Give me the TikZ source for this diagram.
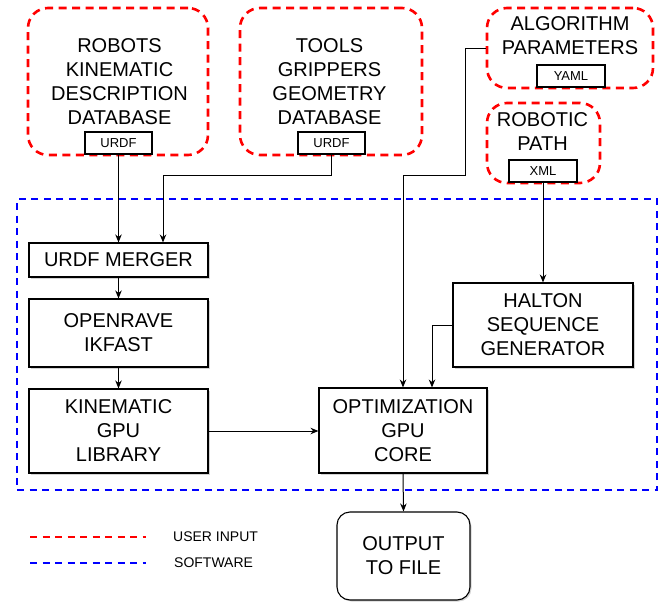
\documentclass[tikz,border=0pt]{standalone}
\usepackage{fontspec}
\setmainfont{Liberation Sans}
\usetikzlibrary{arrows.meta,shadows}
\begin{document}
\begin{tikzpicture}[x=1pt,y=-1pt,
  bigtxt/.style={font=\fontsize{20}{24}\selectfont, align=center, inner sep=0pt},
  userbox/.style={draw=red, line width=2.6pt, dash pattern=on 8pt off 5.5pt, rounded corners=20pt, inner sep=0pt},
  tagbox/.style={draw=black, line width=1.1pt, fill=white, inner sep=0pt, font=\fontsize{13}{15}\selectfont},
  procbox/.style={draw=black, line width=1.1pt, fill=white, inner sep=0pt, align=center,
     font=\fontsize{20}{24}\selectfont, drop shadow={opacity=0.35, shadow xshift=1.5pt, shadow yshift=-1.5pt}},
  softline/.style={draw=blue, line width=2pt, dash pattern=on 7pt off 5.5pt},
  userline/.style={draw=red, line width=2.2pt, dash pattern=on 7pt off 5.5pt},
  conn/.style={draw=black, line width=1pt, -{Stealth[length=8pt,width=6.5pt]}},
  legtxt/.style={font=\fontsize{14}{16}\selectfont, anchor=west, inner sep=0pt}
]
\useasboundingbox (0,0) rectangle (664,605);

% software frame
\node[softline, minimum width=640pt, minimum height=291pt, inner sep=0pt] (soft) at (337,344.5) {};

% user input boxes
\node[userbox, minimum width=180pt, minimum height=147pt] (robotsbox) at (118,81.5) {};
\node[bigtxt] (robotstxt) at (119.5,82) {ROBOTS\\KINEMATIC\\DESCRIPTION\\DATABASE};
\node[tagbox, minimum width=67pt, minimum height=22pt] (robotsurdf) at (118.5,143) {URDF};

\node[userbox, minimum width=182pt, minimum height=147pt] (toolsbox) at (331,81.5) {};
\node[bigtxt] (toolstxt) at (329.5,82) {TOOLS\\GRIPPERS\\GEOMETRY\\DATABASE};
\node[tagbox, minimum width=67pt, minimum height=22pt] (toolsurdf) at (331.5,143) {URDF};

\node[userbox, minimum width=166pt, minimum height=80pt] (algobox) at (570,48) {};
\node[bigtxt] (algotxt) at (570,35.5) {ALGORITHM\\PARAMETERS};
\node[tagbox, minimum width=68pt, minimum height=22pt] (yaml) at (571,76) {YAML};

\node[userbox, minimum width=113pt, minimum height=80pt] (pathbox) at (543.5,143) {};
\node[bigtxt] (pathtxt) at (542.5,131.5) {ROBOTIC\\PATH};
\node[tagbox, minimum width=68pt, minimum height=22pt] (xml) at (543,171) {XML};

% processing boxes
\node[procbox, minimum width=179pt, minimum height=34pt] (merger) at (118.5,260) {URDF MERGER};
\node[procbox, minimum width=179pt, minimum height=68pt] (openrave) at (118.5,333) {OPENRAVE\\IKFAST};
\node[procbox, minimum width=179pt, minimum height=84pt] (kinlib) at (118.5,431) {KINEMATIC\\GPU\\LIBRARY};
\node[procbox, minimum width=168pt, minimum height=85pt] (opt) at (403,430.5) {OPTIMIZATION\\GPU\\CORE};
\node[procbox, minimum width=180pt, minimum height=84pt] (halton) at (543,325) {HALTON\\SEQUENCE\\GENERATOR};
\node[procbox, rounded corners=13pt, minimum width=133pt, minimum height=88pt] (output) at (403.5,556) {OUTPUT\\TO FILE};

% bend points
\coordinate (tb1) at (331.5,175);
\coordinate (tb2) at (163,175);
\coordinate (ab1) at (465,48);
\coordinate (ab2) at (465,175);
\coordinate (ab3) at (403,175);
\coordinate (hb1) at (432,325);

% connectors
\draw[conn] (robotsurdf.south) -- (robotsurdf.south |- merger.north);
\draw[conn] (toolsurdf.south) -- (tb1) -- (tb2) -- (tb2 |- merger.north);
\draw[conn] (merger.south) -- (openrave.north);
\draw[conn] (openrave.south) -- (kinlib.north);
\draw[conn] (kinlib.east) -- (opt.west |- kinlib.east);
\draw[conn] (algobox.west) -- (ab1) -- (ab2) -- (ab3) -- (ab3 |- opt.north);
\draw[conn] (xml.south) -- (xml.south |- halton.north);
\draw[conn] (halton.west) -- (hb1) -- (hb1 |- opt.north);
\draw[conn] (opt.south) -- (output.north);

% legend
\coordinate (lr1) at (30,537);
\coordinate (lr2) at (146,537);
\coordinate (lb1) at (30,563);
\coordinate (lb2) at (146,563);
\draw[userline] (lr1) -- (lr2);
\draw[softline] (lb1) -- (lb2);
\node[legtxt] (legu) at (173,537) {USER INPUT};
\node[legtxt] (legs) at (174,563) {SOFTWARE};
\end{tikzpicture}
\end{document}
